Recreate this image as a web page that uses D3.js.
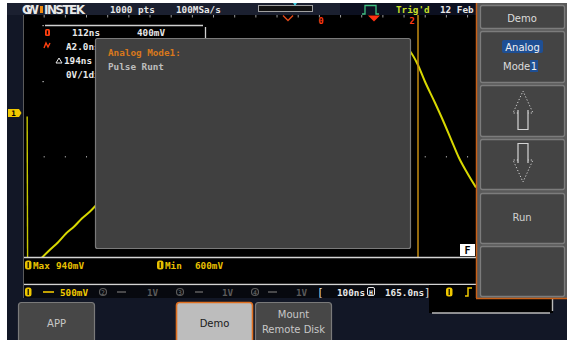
<!DOCTYPE html>
<html><head><meta charset="utf-8">
<script src="https://cdn.jsdelivr.net/npm/d3@7"></script>
<style>html,body{margin:0;padding:0;background:#fff;overflow:hidden}</style>
</head><body><svg id="c" width="567" height="340"></svg>
<script>
// ---- data ----
const timeNs  = [7, 8, 24, 40, 58, 75, 93, 111, 128, 146, 159, 279, 434, 611, 766, 843, 856, 870, 887, 909, 927, 945, 962, 980, 1000];
const traceMv = [572, -1618, -1534, -1421, -1307, -1208, -1081, -982, -869, -770, -686, -49, 799, 1364, 1562, 1562, 1477, 1322, 1067, 770, 516, 247, -7, -219, -431];
const gridDivIndex = d3.range(1, 22);
const headerLabels = ["1000 pts", "100MSa/s"];
const infoRows = ["112ns", "A2.0ns", "194ns", "0V/1div"];
const infoScale = "400mV";
const measureNames = ["Max", "Min"];
const measureValues = ["940mV", "600mV"];
const channelNums = ["1", "2", "3", "4"];
const channelScales = ["500mV", "1V", "1V", "1V"];
const horizLabels = ["100ns", "165.0ns"];
const dialogLines = ["Analog Mode1:", "Pulse Runt"];
const menuLabels = ["Demo", "Analog", "", "", "Run", ""];
const buttonLabels = [["APP"], ["Demo"], ["Mount", "Remote Disk"]];
const trigLabel = "Trig'd", dateLabel = "12 Feb";

// ---- setup ----
const mono = "'DejaVu Sans Mono', monospace";
const sans = "'DejaVu Sans', sans-serif";
const svg = d3.select("#c");
const x = d3.scaleLinear().domain([0, 1000]).range([24, 476]);
const y = d3.scaleLinear().domain([-2000, 2000]).range([298.5, 15.5]);

svg.append("rect").attr("width", 567).attr("height", 340).attr("fill", "#fff");
svg.append("rect").attr("x", 7).attr("y", 3).attr("width", 560).attr("height", 337).attr("fill", "#121726");

// header
svg.append("rect").attr("x", 7).attr("y", 3).attr("width", 469).attr("height", 12).attr("fill", "#1b2030");
svg.append("rect").attr("x", 340).attr("y", 3).attr("width", 136).attr("height", 12).attr("fill", "#0c1020");
svg.append("text").attr("x", 22).attr("y", 13.5).attr("font-family", sans).attr("font-weight", "bold")
  .attr("font-size", 12).attr("fill", "#e8e8e8").attr("textLength", 17).text("GW");
svg.append("rect").attr("x", 40).attr("y", 6).attr("width", 3).attr("height", 7).attr("fill", "#f08a10");
svg.append("text").attr("x", 44).attr("y", 13.5).attr("font-family", sans).attr("font-weight", "bold")
  .attr("font-size", 12).attr("fill", "#e8e8e8").attr("textLength", 41).text("INSTEK");
svg.selectAll(".hdr").data(headerLabels).join("text")
  .attr("x", (d, i) => [110, 176][i]).attr("y", 12.5).attr("font-family", mono).attr("font-weight", "bold")
  .attr("font-size", 9.3).attr("fill", "#e6e6e6").text(d => d);
// memory bar
svg.append("rect").attr("x", 258.5).attr("y", 5.5).attr("width", 54).attr("height", 6).attr("fill", "#111").attr("stroke", "#a0a0a0");
svg.append("path").attr("d", "M293,3 L297,3 L295,6 Z").attr("fill", "#40d0e0");
// trigger icon
svg.append("path").attr("d", "M362,14 L365,14 L365,5.5 L376,5.5 L376,14 L379,14").attr("fill", "none").attr("stroke", "#40c080").attr("stroke-width", 1.3);
svg.append("text").attr("x", 396).attr("y", 12.5).attr("font-family", mono).attr("font-weight", "bold")
  .attr("font-size", 9.3).attr("fill", "#c8e028").text(trigLabel);
svg.append("text").attr("x", 440).attr("y", 12.5).attr("font-family", mono).attr("font-weight", "bold")
  .attr("font-size", 9.3).attr("fill", "#e6e6e6").text(dateLabel);

// grid area
svg.append("rect").attr("x", 24).attr("y", 15).attr("width", 452).attr("height", 283).attr("fill", "#000");
svg.append("line").attr("x1", 23.5).attr("x2", 23.5).attr("y1", 15).attr("y2", 298).attr("stroke", "#5a5a5a");
svg.selectAll(".tk").data(gridDivIndex).join("line")
  .attr("x1", k => 23 + 21.17 * k).attr("x2", k => 23 + 21.17 * k).attr("y1", 15).attr("y2", 17.5)
  .attr("stroke", "#9a9a9a");
svg.selectAll(".dot").data(gridDivIndex).join("rect")
  .attr("x", k => 22.5 + 21.17 * k).attr("y", y(0) - 1).attr("width", 1).attr("height", 1.5).attr("fill", "#9a9a9a");

// top markers
svg.append("path").attr("d", "M283,15.5 L288,20.5 L293,15.5").attr("fill", "none").attr("stroke", "#e04818").attr("stroke-width", 1.4);
svg.append("text").attr("x", 321).attr("y", 23.5).attr("text-anchor", "middle").attr("font-family", mono).attr("font-weight", "bold")
  .attr("font-size", 9).attr("fill", "#ff3a10").text("0");
svg.append("path").attr("d", "M368,15.5 L380,15.5 L374,21.5 Z").attr("fill", "#ff3010");
svg.append("text").attr("x", 412).attr("y", 23.5).attr("text-anchor", "middle").attr("font-family", mono).attr("font-weight", "bold")
  .attr("font-size", 9).attr("fill", "#ff3a10").text("2");

// trace
svg.append("clipPath").attr("id", "gc").append("rect").attr("x", 24).attr("y", 15).attr("width", 452).attr("height", 283);
const pts = timeNs.map((t, i) => [t, traceMv[i]]);
svg.append("path").datum(pts.slice(0, 2)).attr("clip-path", "url(#gc)")
  .attr("d", d3.line().x(d => x(d[0])).y(d => y(d[1]))).attr("fill", "none").attr("stroke", "#c8c800").attr("stroke-width", 1.4);
svg.append("path").datum(pts.slice(1)).attr("clip-path", "url(#gc)")
  .attr("d", d3.line().x(d => x(d[0])).y(d => y(d[1])).curve(d3.curveMonotoneX))
  .attr("fill", "none").attr("stroke", "#d8d800").attr("stroke-width", 2);

// cursor line
svg.append("line").attr("x1", 418).attr("x2", 418).attr("y1", 15).attr("y2", 257).attr("stroke", "#c48c10").attr("stroke-width", 1.5);

// ground marker
svg.append("path").attr("d", "M8,109 L19,109 L21.5,113 L19,117 L8,117 Z").attr("fill", "#f0c800");
svg.append("text").attr("x", 13.5).attr("y", 116).attr("text-anchor", "middle").attr("font-family", mono).attr("font-weight", "bold")
  .attr("font-size", 7.5).attr("fill", "#000").text("1");

// info box
svg.append("line").attr("x1", 45).attr("x2", 203).attr("y1", 25.5).attr("y2", 25.5).attr("stroke", "#cfcfcf").attr("stroke-width", 1.3);
svg.append("line").attr("x1", 205.5).attr("x2", 205.5).attr("y1", 27).attr("y2", 38).attr("stroke", "#cfcfcf").attr("stroke-width", 1.3);
svg.append("rect").attr("x", 42.5).attr("y", 25).attr("width", 1.2).attr("height", 1.2).attr("fill", "#ccc");
svg.append("rect").attr("x", 42.5).attr("y", 81).attr("width", 1.2).attr("height", 1.2).attr("fill", "#ccc");
svg.append("rect").attr("x", 45).attr("y", 29).attr("width", 5).attr("height", 7).attr("rx", 1.5).attr("fill", "#ff4010");
svg.append("rect").attr("x", 46.8).attr("y", 30.5).attr("width", 1.3).attr("height", 4).attr("fill", "#000");
svg.append("path").attr("d", "M44,48 L46,43 L48,47 L50,43").attr("fill", "none").attr("stroke", "#ff4010").attr("stroke-width", 1.4);
svg.selectAll(".inf").data(infoRows).join("text")
  .attr("x", (d, i) => [72, 66, 64, 66][i]).attr("y", (d, i) => 35.5 + 14 * i)
  .attr("font-family", mono).attr("font-weight", "bold").attr("font-size", 9.3).attr("fill", "#e8e8e8").text(d => d);
svg.append("path").attr("d", "M56,63 L59,58 L62,63 Z").attr("fill", "none").attr("stroke", "#e8e8e8").attr("stroke-width", 1);
svg.append("text").attr("x", 137).attr("y", 35.5).attr("font-family", mono).attr("font-weight", "bold")
  .attr("font-size", 9.3).attr("fill", "#e8e8e8").text(infoScale);

// dialog
svg.append("rect").attr("x", 95.5).attr("y", 38.5).attr("width", 315).attr("height", 210).attr("rx", 2)
  .attr("fill", "#404040").attr("stroke", "#7a7a7a").attr("stroke-width", 1.2);
svg.selectAll(".dl").data(dialogLines).join("text")
  .attr("x", 108).attr("y", (d, i) => 55.5 + 14 * i).attr("font-family", mono).attr("font-weight", "bold")
  .attr("font-size", 9.3).attr("fill", (d, i) => i ? "#bdbdbd" : "#d8781c").text(d => d);

// F box
svg.append("rect").attr("x", 460).attr("y", 244).attr("width", 15).attr("height", 12).attr("fill", "#fff");
svg.append("text").attr("x", 467.5).attr("y", 254).attr("text-anchor", "middle").attr("font-family", mono).attr("font-weight", "bold")
  .attr("font-size", 10).attr("fill", "#000").text("F");

// measurement area
svg.append("rect").attr("x", 24).attr("y", 258).attr("width", 452).attr("height", 40).attr("fill", "#000");
[257.5, 284.5].forEach(yy => svg.append("line").attr("x1", 24).attr("x2", 476).attr("y1", yy).attr("y2", yy)
  .attr("stroke", "#d4d4d4").attr("stroke-width", 1.5));
function chIcon(cx, cy, col) {
  svg.append("rect").attr("x", cx - 3).attr("y", cy - 4.5).attr("width", 6.5).attr("height", 9).attr("rx", 2.5).attr("fill", col);
  svg.append("rect").attr("x", cx - 0.4).attr("y", cy - 3).attr("width", 1.2).attr("height", 6).attr("fill", "#000");
}
measureNames.forEach((m, i) => {
  const bx = [28, 160][i];
  chIcon(bx, 265, "#e8c000");
  svg.append("text").attr("x", bx + 5).attr("y", 268.5).attr("font-family", mono).attr("font-weight", "bold")
    .attr("font-size", 9.3).attr("fill", "#e8c000").text(m);
  svg.append("text").attr("x", [56, 195][i]).attr("y", 268.5).attr("font-family", mono).attr("font-weight", "bold")
    .attr("font-size", 9.3).attr("fill", "#e8c000").text(measureValues[i]);
});

// channel row
svg.append("rect").attr("x", 24).attr("y", 285.5).attr("width", 452).attr("height", 12.5).attr("fill", "#07090f");
channelNums.forEach((c, i) => {
  const bx = [28, 103, 180, 255][i];
  const col = i ? "#5a5a5a" : "#f0c800";
  if (i === 0) chIcon(bx, 292, col);
  else {
    svg.append("circle").attr("cx", bx).attr("cy", 292).attr("r", 3.5).attr("fill", "none").attr("stroke", col).attr("stroke-width", 1.2);
    svg.append("text").attr("x", bx).attr("y", 294.5).attr("text-anchor", "middle").attr("font-family", mono).attr("font-weight", "bold")
      .attr("font-size", 6.5).attr("fill", col).text(c);
  }
  svg.append("line").attr("x1", [43, 117, 195, 268][i]).attr("x2", [54, 126, 203, 277][i]).attr("y1", 292).attr("y2", 292)
    .attr("stroke", col).attr("stroke-width", 1.6);
  svg.append("text").attr("x", [60, 147, 222, 296][i]).attr("y", 295.5).attr("font-family", mono).attr("font-weight", "bold")
    .attr("font-size", 9.3).attr("fill", col).text(channelScales[i]);
});
svg.append("text").attr("x", 317).attr("y", 296).attr("font-family", mono).attr("font-size", 11).attr("fill", "#ddd").text("[");
svg.append("text").attr("x", 337).attr("y", 295.5).attr("font-family", mono).attr("font-weight", "bold")
  .attr("font-size", 9.3).attr("fill", "#e8e8e8").text(horizLabels[0]);
svg.append("rect").attr("x", 367.5).attr("y", 287.5).attr("width", 7).attr("height", 8).attr("rx", 1.5).attr("fill", "none").attr("stroke", "#e8e8e8");
svg.append("text").attr("x", 371).attr("y", 294.5).attr("text-anchor", "middle").attr("font-family", mono).attr("font-weight", "bold")
  .attr("font-size", 6.5).attr("fill", "#e8e8e8").text("H");
svg.append("text").attr("x", 385).attr("y", 295.5).attr("font-family", mono).attr("font-weight", "bold")
  .attr("font-size", 9.3).attr("fill", "#e8e8e8").text(horizLabels[1]);

// trigger box lower right
svg.append("rect").attr("x", 429).attr("y", 285).attr("width", 124).attr("height", 28).attr("fill", "#000");
svg.append("text").attr("x", 424).attr("y", 296).attr("font-family", mono).attr("font-size", 11).attr("fill", "#ddd").text("]");
svg.append("line").attr("x1", 432).attr("x2", 550).attr("y1", 313).attr("y2", 313).attr("stroke", "#bbb").attr("stroke-width", 1.4);
svg.append("line").attr("x1", 552.5).attr("x2", 552.5).attr("y1", 299).attr("y2", 311).attr("stroke", "#bbb").attr("stroke-width", 1.4);
chIcon(449, 292, "#f0c800");
svg.append("path").attr("d", "M465,296 L468,296 L468,288 L472,288").attr("fill", "none").attr("stroke", "#f0c800").attr("stroke-width", 1.5);

// right menu panel
svg.append("rect").attr("x", 477).attr("y", 3).attr("width", 90).attr("height", 295).attr("fill", "#5a5a5a");
const boxes = [[5, 28], [31, 82], [85, 136], [139, 189], [193, 243], [246, 296]];
svg.selectAll(".mb").data(boxes).join("rect")
  .attr("x", 480.5).attr("y", d => d[0] + 0.5).attr("width", 84).attr("height", d => d[1] - d[0]).attr("rx", 2)
  .attr("fill", "#444").attr("stroke", "#7c7c7c").attr("stroke-width", 1.3);
svg.append("line").attr("x1", 476.5).attr("x2", 476.5).attr("y1", 3).attr("y2", 298).attr("stroke", "#c86018").attr("stroke-width", 1.5);
svg.append("line").attr("x1", 476).attr("x2", 567).attr("y1", 298.5).attr("y2", 298.5).attr("stroke", "#c86018").attr("stroke-width", 1.5);
svg.append("text").attr("x", 522).attr("y", 21.5).attr("text-anchor", "middle").attr("font-family", sans)
  .attr("font-size", 10).attr("fill", "#dcdcdc").text(menuLabels[0]);
svg.append("rect").attr("x", 502).attr("y", 40).attr("width", 41).attr("height", 13).attr("rx", 2).attr("fill", "#1e4f94");
svg.append("text").attr("x", 522.5).attr("y", 50.5).attr("text-anchor", "middle").attr("font-family", sans)
  .attr("font-size", 10).attr("fill", "#f0f0f0").text(menuLabels[1]);
svg.append("text").attr("x", 503).attr("y", 69.5).attr("font-family", sans)
  .attr("font-size", 10).attr("fill", "#dcdcdc").text("Mode");
svg.append("rect").attr("x", 530).attr("y", 60).attr("width", 8).attr("height", 12).attr("fill", "#1e4f94");
svg.append("text").attr("x", 534).attr("y", 69.5).attr("text-anchor", "middle").attr("font-family", sans)
  .attr("font-size", 10).attr("fill", "#f0f0f0").text("1");
svg.append("text").attr("x", 522).attr("y", 221).attr("text-anchor", "middle").attr("font-family", sans)
  .attr("font-size", 10).attr("fill", "#d0d0d0").text(menuLabels[4]);
// arrows
const ac = "#d4d4d4";
svg.append("path").attr("d", "M518,113 L513,113 L523,91 L533,113 L528,113").attr("fill", "none").attr("stroke", ac).attr("stroke-dasharray", "1.2,2");
svg.append("path").attr("d", "M518,110 L518,129.5 L528,129.5 L528,110").attr("fill", "none").attr("stroke", ac).attr("stroke-width", 1.2);
svg.append("path").attr("d", "M518,163 L518,143.5 L528,143.5 L528,163").attr("fill", "none").attr("stroke", ac).attr("stroke-width", 1.2);
svg.append("path").attr("d", "M518,160 L513,160 L523,182 L533,160 L528,160").attr("fill", "none").attr("stroke", ac).attr("stroke-dasharray", "1.2,2");

// bottom buttons
const btns = [[18, 94], [176, 252], [255, 331]];
btns.forEach((b, i) => {
  svg.append("rect").attr("x", b[0] + 0.5).attr("y", 302.5).attr("width", b[1] - b[0]).attr("height", 42).attr("rx", 3)
    .attr("fill", i === 1 ? "#bdbdbd" : "#474747").attr("stroke", i === 1 ? "#e07020" : "#7a7a7a").attr("stroke-width", i === 1 ? 1.6 : 1.2);
  const lines = buttonLabels[i];
  lines.forEach((t, j) => {
    svg.append("text").attr("x", (b[0] + b[1]) / 2 + 0.5).attr("y", lines.length === 1 ? 326.5 : 318 + 15 * j)
      .attr("text-anchor", "middle").attr("font-family", sans).attr("font-size", 10)
      .attr("fill", i === 1 ? "#1a1a1a" : "#c8c8c8").text(t);
  });
});
</script></body></html>
